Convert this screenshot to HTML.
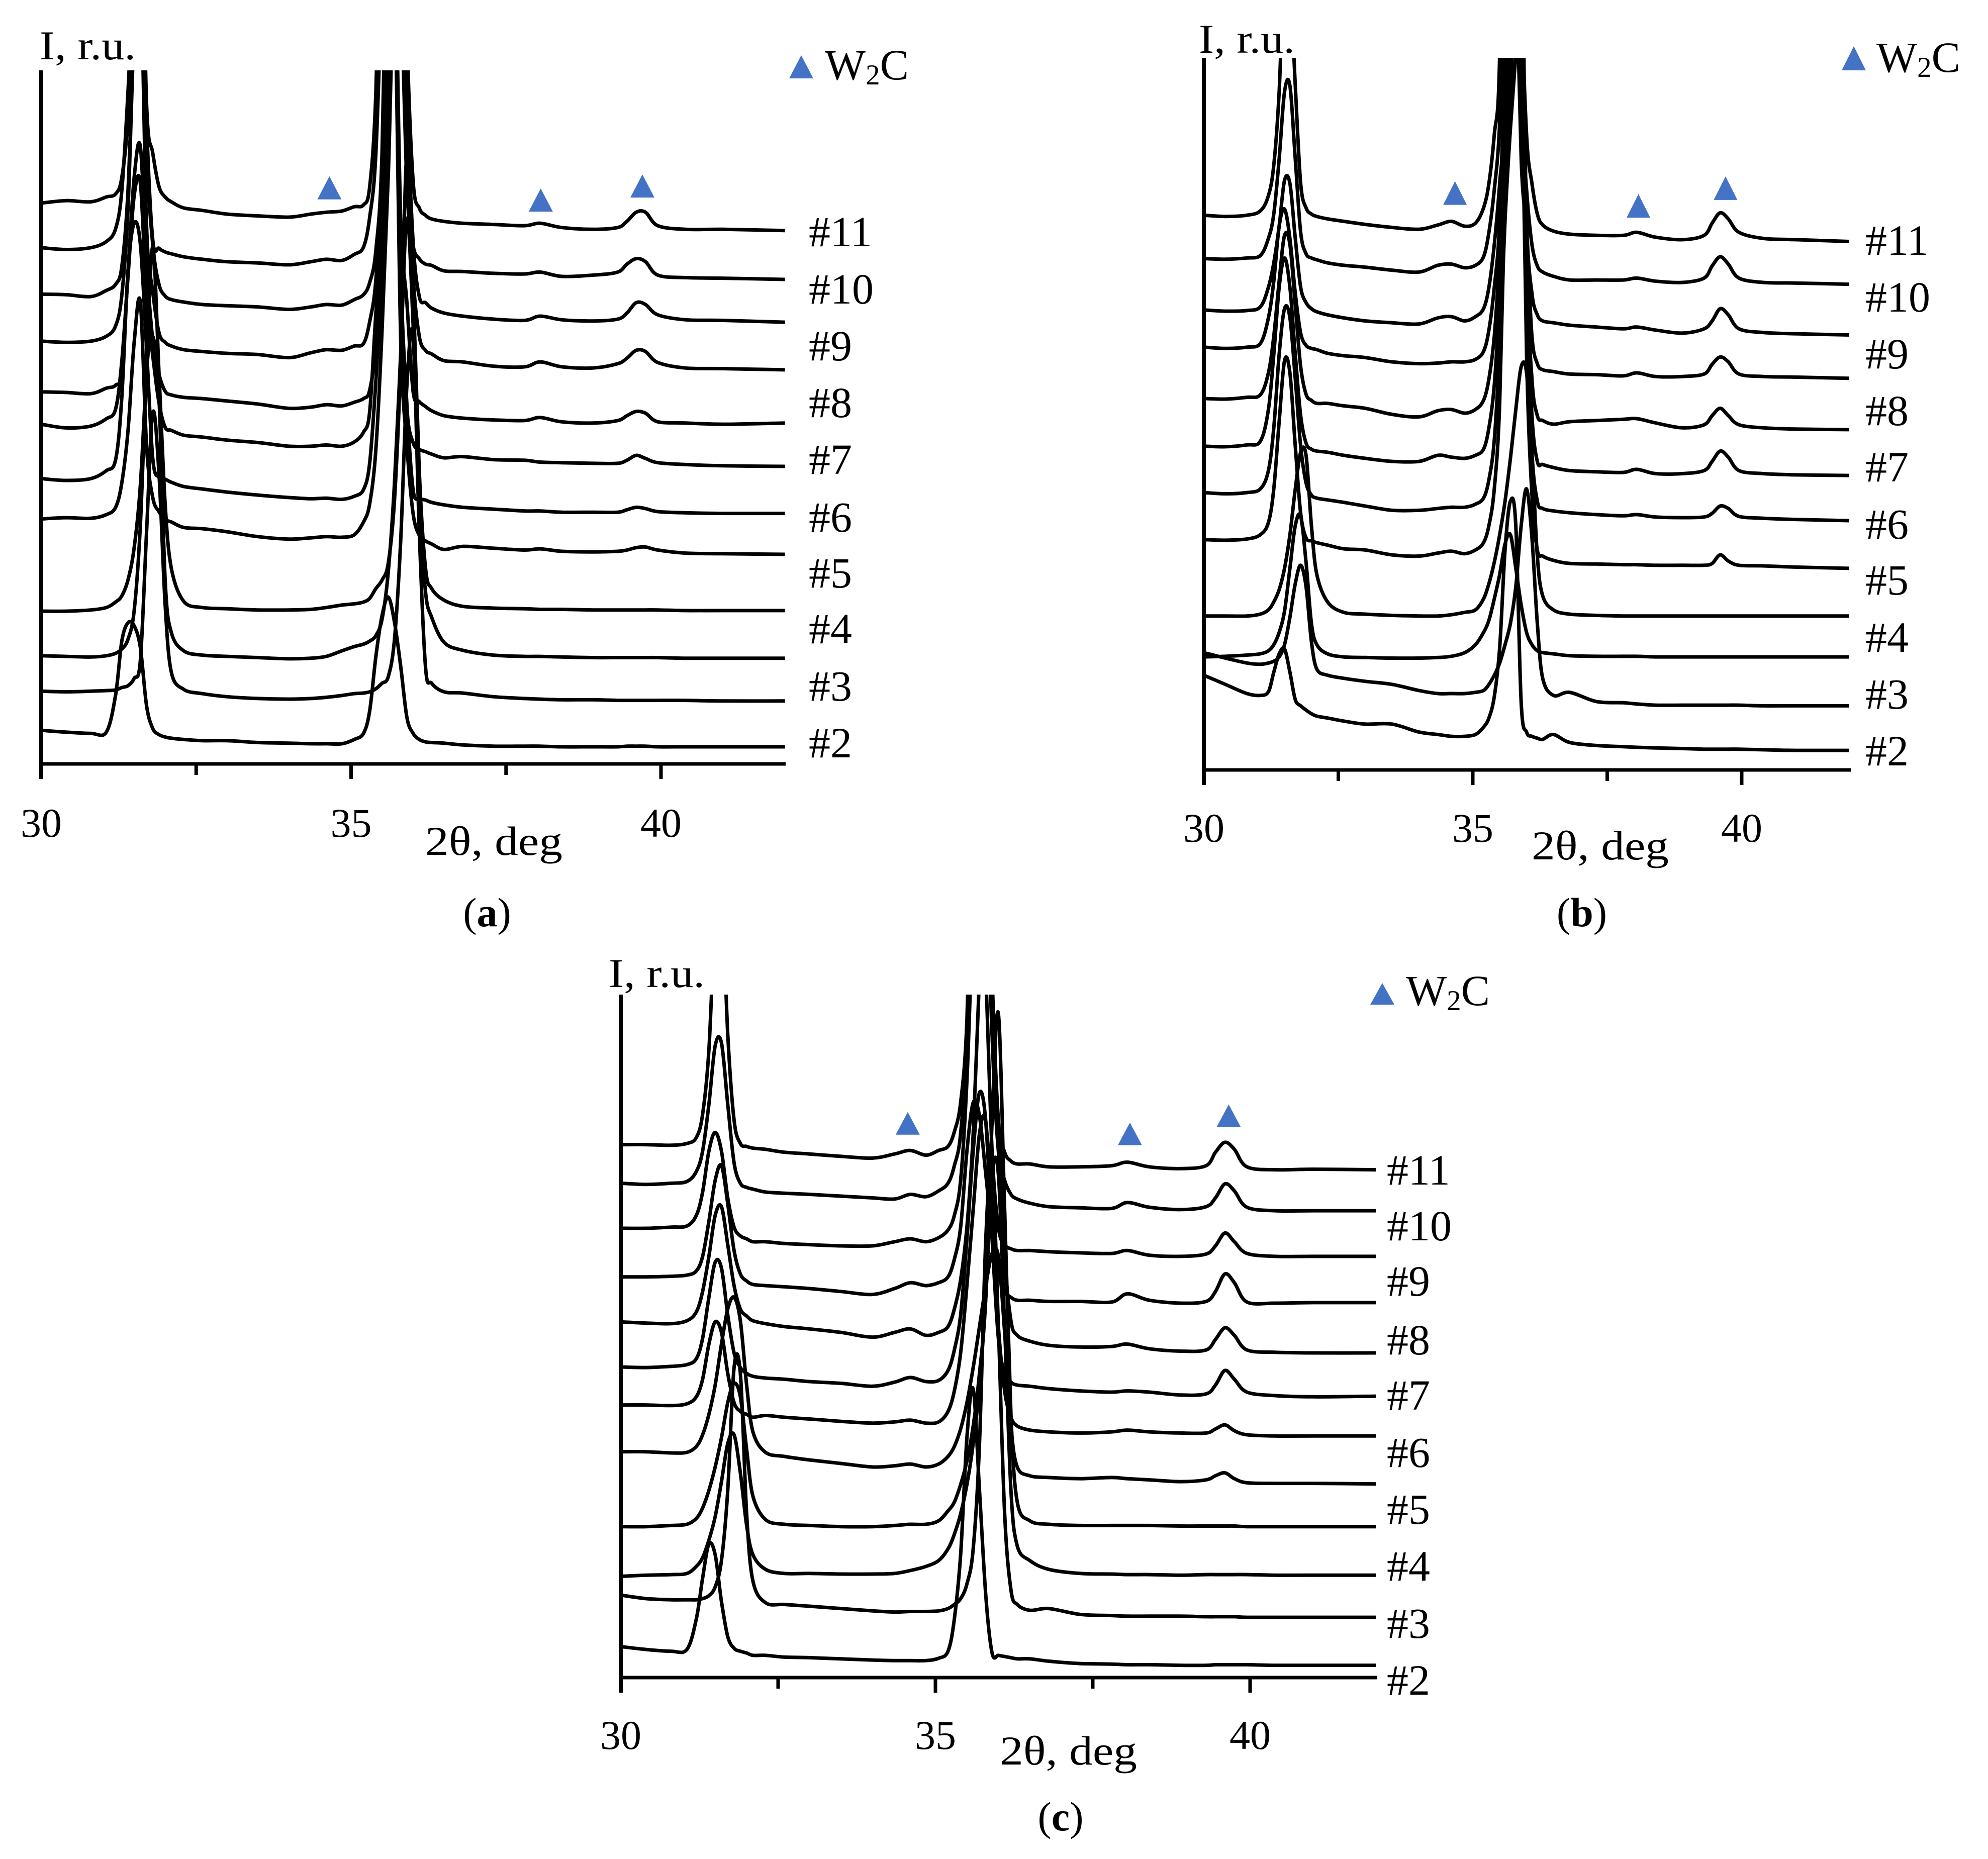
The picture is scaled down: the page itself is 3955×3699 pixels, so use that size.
<!DOCTYPE html>
<html lang="en">
<head>
<meta charset="utf-8">
<title>XRD patterns with W2C peaks</title>
<style>
html,body{margin:0;padding:0;background:#fff;}
svg{display:block;}
text{font-family:"Liberation Serif","DejaVu Serif",serif;fill:#000;font-size:82px;}
text.curve-label{font-size:86px;}
text.legend-label{font-size:86px;}
tspan.sub{font-size:57px;}
</style>
</head>
<body>
<svg id="figure" xmlns="http://www.w3.org/2000/svg" width="3955" height="3699" viewBox="0 0 3955 3699">
<rect x="0" y="0" width="3955" height="3699" fill="#ffffff"/>

<g id="panel-a">
<text x="79" y="118" textLength="191" lengthAdjust="spacingAndGlyphs">I, r.u.</text>
<polygon points="1570,156 1618,156 1594,110" fill="#4472C4"/>
<text class="legend-label" x="1641" y="158">W<tspan class="sub" dy="10">2</tspan><tspan dy="-10">C</tspan></text>
<text class="curve-label" x="1609" y="490">#11</text>
<text class="curve-label" x="1609" y="604">#10</text>
<text class="curve-label" x="1609" y="717">#9</text>
<text class="curve-label" x="1609" y="830">#8</text>
<text class="curve-label" x="1609" y="943">#7</text>
<text class="curve-label" x="1609" y="1058">#6</text>
<text class="curve-label" x="1609" y="1169">#5</text>
<text class="curve-label" x="1609" y="1280">#4</text>
<text class="curve-label" x="1609" y="1394">#3</text>
<text class="curve-label" x="1609" y="1507">#2</text>
<text x="846" y="1701" textLength="273" lengthAdjust="spacingAndGlyphs">2θ, deg</text>
<text x="969" y="1843" text-anchor="middle">(<tspan font-weight="bold">a</tspan>)</text>
</g>

<g id="panel-b">
<text x="2385" y="105" textLength="191" lengthAdjust="spacingAndGlyphs">I, r.u.</text>
<polygon points="3664,140 3712,140 3688,92" fill="#4472C4"/>
<text class="legend-label" x="3733" y="143">W<tspan class="sub" dy="10">2</tspan><tspan dy="-10">C</tspan></text>
<text class="curve-label" x="3711" y="507">#11</text>
<text class="curve-label" x="3711" y="620">#10</text>
<text class="curve-label" x="3711" y="733">#9</text>
<text class="curve-label" x="3711" y="846">#8</text>
<text class="curve-label" x="3711" y="958">#7</text>
<text class="curve-label" x="3711" y="1072">#6</text>
<text class="curve-label" x="3711" y="1183">#5</text>
<text class="curve-label" x="3711" y="1297">#4</text>
<text class="curve-label" x="3711" y="1410">#3</text>
<text class="curve-label" x="3711" y="1523">#2</text>
<text x="3047" y="1710" textLength="273" lengthAdjust="spacingAndGlyphs">2θ, deg</text>
<text x="3147" y="1843" text-anchor="middle">(<tspan font-weight="bold">b</tspan>)</text>
</g>

<g id="panel-c">
<text x="1211" y="1964" textLength="191" lengthAdjust="spacingAndGlyphs">I, r.u.</text>
<polygon points="2726,1999 2774,1999 2750,1956" fill="#4472C4"/>
<text class="legend-label" x="2797" y="2000">W<tspan class="sub" dy="10">2</tspan><tspan dy="-10">C</tspan></text>
<text class="curve-label" x="2759" y="2357">#11</text>
<text class="curve-label" x="2759" y="2468">#10</text>
<text class="curve-label" x="2759" y="2578">#9</text>
<text class="curve-label" x="2759" y="2695">#8</text>
<text class="curve-label" x="2759" y="2805">#7</text>
<text class="curve-label" x="2759" y="2919">#6</text>
<text class="curve-label" x="2759" y="3032">#5</text>
<text class="curve-label" x="2759" y="3145">#4</text>
<text class="curve-label" x="2759" y="3259">#3</text>
<text class="curve-label" x="2759" y="3372">#2</text>
<text x="1989" y="3511" textLength="273" lengthAdjust="spacingAndGlyphs">2θ, deg</text>
<text x="2110" y="3642" text-anchor="middle">(<tspan font-weight="bold">c</tspan>)</text>
</g>
</svg>

<script>
// Shared 2-theta sample positions (degrees)
const twoTheta = [30,30.4,30.8,31.05,
 31.2,31.3,31.4,31.5,31.6,31.7,31.8,31.9,32,32.1,
 32.3,32.6,33,33.5,34,34.35,34.6,34.85,35.05,
 35.2,35.3,35.4,35.5,35.6,35.7,35.8,35.9,36,36.1,36.2,36.3,
 36.5,36.8,37.3,37.8,38.05,38.4,38.9,39.3,39.45,39.6,39.75,39.95,40.4,41,42];
const tickValues = [30,32.5,35,37.5,40];
const tickLabelValues = ['30','35','40'];
const markerAnglesA = [34.65,38.06,39.7];
const markerAnglesB = [34.67,38.08,39.7];
const markerAnglesC = [34.56,38.09,39.66];
const markerIntensityA = [924,904,927];
const markerIntensityB = [925,904,933];
const markerIntensityC = [928,910,941];

// Panel (a) curves, top to bottom (relative intensity)
const a01=[918,922,920,928, 933,960,1060,1300,1500,1080,1000,945,928,920, 910,906,900,897,895,900,903,905,912, 915,945,1100,1500,1800,1900,1700,1200,955,910,898,892, 888,885,883,881,885,878,875,878,888,903,903,881,875,875,873];
const a02=[845,842,845,855, 876,938,1100,1300,1400,1050,858,844,838,835, 830,826,822,820,817,822,826,824,834, 846,895,1000,1300,1700,1600,1300,950,849,827,818,816, 807,806,803,802,805,798,800,805,818,827,822,800,796,795,793];
const a03=[769,768,765,775, 785,814,938,1200,1300,1000,850,785,766,760, 756,752,750,748,744,748,752,751,760, 768,788,841,1003,1500,1800,1500,1100,855,765,755,746, 738,733,728,726,733,727,725,728,738,755,752,735,727,726,723];
const a04=[692,690,692,700, 717,767,908,1200,1300,880,773,706,690,684, 678,675,672,670,665,673,678,677,684, 688,724,793,977,1300,1600,1500,1030,800,700,677,671, 660,658,651,650,658,650,648,655,664,677,675,657,648,647,645];
const a05=[609,608,606,615, 620,644,806,960,1010,820,694,638,610,604, 600,598,594,589,582,584,588,586,592, 598,612,688,866,1150,1350,893,755,610,593,585,578, 570,566,563,562,567,560,558,562,570,577,574,560,558,556,558];
const a06=[556,550,553,565, 581,659,797,930,950,760,668,591,551,546, 538,535,530,526,520,520,522,520,527, 543,577,738,866,1100,1300,800,582,526,515,511,507, 501,503,498,497,494,493,492,492,497,505,500,493,490,488,487];
const a07=[467,464,467,480, 498,600,806,885,850,680,500,469,466,461, 454,450,445,440,436,434,435,433,438, 449,493,627,800,1000,1300,810,588,449,435,432,428, 424,420,417,414,414,412,412,412,416,420,418,413,411,410,410];
const a08=[401,403,402,408, 420,460,545,690,755,520,436,413,400,396, 387,385,380,372,368,370,372,371,375, 396,426,515,710,965,1250,699,521,410,374,365,360, 351,356,353,350,352,348,347,348,350,354,355,350,345,344,343];
const a09=[250,250,252,256, 265,275,301,354,457,650,846,640,425,320, 266,256,254,252,252,253,256,260,262, 265,271,287,301,329,432,654,1000,780,480,321,287, 268,258,255,254,253,253,252,252,252,252,252,252,251,251,251];
const a10=[177,176,175,177, 181,188,204,251,392,640,700,600,300,215, 185,178,176,174,172,173,176,185,192, 196,201,210,237,315,460,671,893,720,432,282,240, 199,186,178,176,176,175,174,174,174,174,174,174,173,173,173];
const a11=[119,118,119,120, 121,125,128,140,170,380,575,475,260,150, 122,115,110,107,106,107,109,112,115, 116,118,123,132,143,204,365,620,700,380,159,132, 118,116,110,107,106,105,105,104,104,104,104,104,104,103,103];
const a12=[55,52,50,52, 113,201,231,226,190,95,58,48,44,42, 40,38,38,35,34,33,33,33,40, 50,87,176,243,273,232,160,76,50,40,36,35, 34,31,29,29,29,28,28,28,29,29,29,28,28,28,28];

// Panel (b) curves
const b01=[908,906,908,915, 940,990,1110,1330,1300,1120,960,920,910,906, 902,898,893,888,885,892,898,890,895, 920,960,1040,1170,1800,1800,1800,1300,1040,960,910,892, 882,877,875,875,880,872,868,875,895,912,902,880,870,868,865];
const b02=[837,836,838,842, 870,910,1000,1110,1120,1000,880,845,838,835, 830,826,823,818,815,826,828,822,826, 840,880,950,1060,1350,1800,1500,1100,950,860,825,815, 808,802,802,802,805,800,798,805,825,840,828,805,798,797,795];
const b03=[753,751,752,758, 790,830,890,965,960,870,790,765,755,750, 745,740,735,732,730,740,742,735,742, 755,790,860,960,1100,1600,1800,1300,900,780,745,735, 732,728,725,722,725,720,715,722,735,755,745,722,716,714,712];
const b04=[692,690,692,698, 740,800,890,918,870,780,715,695,690,688, 682,678,675,668,665,666,668,668,672, 685,720,790,900,1200,1600,1350,1000,880,710,665,655, 652,648,647,645,650,644,644,648,664,676,668,648,644,643,641];
const b05=[608,607,610,614, 650,710,800,875,860,760,660,615,605,600, 600,596,592,582,578,588,590,584,590, 605,640,710,840,1000,1200,1800,1500,850,640,580,572, 566,570,572,574,575,568,560,565,580,592,580,565,560,558,557];
const b06=[530,529,532,538, 590,680,790,838,790,680,580,535,525,522, 520,515,510,505,505,515,512,510,515, 525,560,630,770,950,1080,1400,1400,800,580,505,500, 495,490,488,487,492,485,485,490,505,522,512,490,485,483,482];
const b07=[454,452,454,460, 490,560,680,755,740,640,530,470,450,445, 442,438,432,425,425,428,430,430,435, 445,475,540,690,900,1050,1170,1300,750,520,440,428, 424,421,418,416,418,414,413,414,420,432,428,415,412,410,408];
const b08=[377,376,378,385, 405,460,570,670,650,530,420,380,375,372, 368,362,360,352,350,355,358,354,360, 372,400,460,600,950,1300,1500,1200,680,450,360,350, 343,338,337,336,336,335,335,335,338,352,342,335,334,332,330];
const b09=[252,252,252,255, 262,275,295,330,385,460,520,515,400,320, 275,258,255,253,252,252,254,258,262, 280,305,340,385,440,510,590,660,650,520,350,285, 262,255,253,252,252,252,252,252,252,252,252,252,252,252,252];
const b10=[185,186,188,190, 195,205,225,260,330,400,415,340,240,205, 190,185,184,183,183,184,186,192,205, 225,245,280,320,370,385,330,270,225,205,195,192, 190,187,186,186,186,185,185,185,185,185,185,185,185,185,185];
const b11=[192,183,175,173, 175,178,185,205,250,305,335,300,210,165, 155,150,145,140,130,125,125,125,127, 130,140,155,175,205,240,300,400,460,380,240,150, 122,127,112,110,108,106,106,106,106,106,106,106,105,105,105];
const b12=[155,140,125,122, 128,160,190,198,160,115,105,98,92,88, 85,80,75,75,62,58,55,55,58, 70,85,120,200,360,440,400,110,62,55,52,50, 58,45,40,38,37,36,35,34,34,34,34,34,33,32,32];

// Panel (c) curves
const c01=[911,911,910,913, 923,963,1073,1300,1350,1100,953,913,908,905, 903,898,895,891,888,895,901,893,901, 908,933,983,1123,1500,1800,1600,1200,953,898,883,878, 878,873,873,875,881,873,870,875,898,915,903,873,868,869,868];
const c02=[845,843,845,848, 865,900,980,1080,1085,980,880,845,838,835, 830,828,826,823,820,818,826,822,832, 845,875,930,1100,1500,1700,1500,1100,900,850,826,818, 811,805,803,802,812,804,800,805,820,844,832,804,798,798,798];
const c03=[768,768,770,772, 790,830,900,932,900,820,770,755,750,745, 745,742,740,738,738,745,750,745,752, 765,790,850,1020,1300,1400,1200,900,770,740,733,730, 730,728,726,725,730,722,720,724,738,760,745,725,720,720,720];
const c04=[685,685,686,688, 695,720,780,850,875,810,730,690,678,672, 670,668,665,660,655,665,675,670,675, 685,715,770,900,983,960,860,760,690,660,650,645, 645,643,643,642,656,645,640,643,660,690,675,642,640,641,641];
const c05=[608,606,605,610, 625,660,720,790,805,740,670,630,618,610, 605,600,596,590,582,590,596,585,590, 600,630,680,770,930,1200,1400,1100,950,720,610,585, 575,568,565,566,570,562,558,560,578,598,585,560,556,555,555];
const c06=[531,530,532,535, 545,580,650,710,700,620,555,530,520,515, 512,510,506,503,498,505,513,506,508, 525,560,620,750,900,1000,950,750,580,520,505,500, 498,494,490,488,490,488,483,485,500,525,510,488,482,480,481];
const c07=[466,466,465,468, 480,510,570,608,590,520,470,455,450,445, 448,445,442,438,435,437,440,435,437, 455,490,555,670,800,930,950,780,600,490,445,430, 423,420,418,420,423,420,418,418,425,432,422,415,413,413,413];
const c08=[386,386,384,385, 395,415,450,500,570,630,650,610,500,420, 385,378,372,366,360,362,365,360,365, 378,395,425,470,530,600,670,725,720,590,430,360, 345,342,340,342,340,338,335,338,345,350,340,333,332,332,331];
const c09=[258,258,260,262, 272,290,320,360,410,470,503,480,390,310, 270,262,260,258,258,260,262,262,268, 285,300,330,370,430,520,650,950,1135,800,450,300, 268,262,260,260,260,260,259,259,259,259,259,258,258,258,258];
const c10=[173,175,176,178, 190,205,235,275,335,400,415,350,260,210, 185,178,178,177,177,178,183,190,200, 220,245,280,330,400,500,650,860,860,600,320,225, 200,185,178,177,176,176,175,176,176,176,176,176,175,175,175];
const c11=[141,135,133,133, 133,135,140,155,200,320,530,520,280,165, 128,125,122,118,114,112,113,113,114, 118,125,135,160,220,400,750,880,600,280,150,125, 115,118,108,106,105,105,105,104,104,104,104,103,103,103,103];
const c12=[53,48,45,48, 100,170,228,210,130,70,50,45,42,38, 38,35,34,32,30,29,29,29,33, 45,100,210,410,493,320,140,42,38,36,34,32, 32,28,24,23,22,22,21,21,22,22,22,22,21,21,21];

const seriesA=[a01,a02,a03,a04,a05,a06,a07,a08,a09,a10,a11,a12];
const seriesB=[b01,b02,b03,b04,b05,b06,b07,b08,b09,b10,b11,b12];
const seriesC=[c01,c02,c03,c04,c05,c06,c07,c08,c09,c10,c11,c12];

const SVGNS='http://www.w3.org/2000/svg';

function drawPanel(id,left,pxPerDeg,right,top,bottom,pxPerUnit,curves,markerAngles,markers,labelY,markerW,markerH){
  const root=document.getElementById('panel-'+id);
  const xScale=function(d){return left+(d-30)*pxPerDeg;};
  const yScale=function(v){return bottom-v*pxPerUnit;};

  const clip=document.createElementNS(SVGNS,'clipPath');
  clip.setAttribute('id','clip-'+id);
  const clipRect=document.createElementNS(SVGNS,'rect');
  clipRect.setAttribute('x',left-3);
  clipRect.setAttribute('y',top);
  clipRect.setAttribute('width',right-left+10);
  clipRect.setAttribute('height',bottom-top);
  clip.appendChild(clipRect);
  root.appendChild(clip);

  const group=document.createElementNS(SVGNS,'g');
  group.setAttribute('clip-path','url(#clip-'+id+')');
  
  
  root.appendChild(group);

  curves.forEach(function(values,index){
    const pts=values.map(function(v,i){return [xScale(twoTheta[i]),yScale(v)];});
    let d='M'+pts[0][0].toFixed(1)+' '+pts[0][1].toFixed(1);
    for(let i=0;i<pts.length-1;i++){
      const p0=pts[Math.max(0,i-1)],p1=pts[i],p2=pts[i+1],p3=pts[Math.min(pts.length-1,i+2)];
      const c1x=p1[0]+(p2[0]-p0[0])/6,c1y=p1[1]+(p2[1]-p0[1])/6;
      const c2x=p2[0]-(p3[0]-p1[0])/6,c2y=p2[1]-(p3[1]-p1[1])/6;
      d+=' C'+c1x.toFixed(1)+' '+c1y.toFixed(1)+' '+c2x.toFixed(1)+' '+c2y.toFixed(1)+' '+p2[0].toFixed(1)+' '+p2[1].toFixed(1);
    }
    const path=document.createElementNS(SVGNS,'path');
    path.setAttribute('d',d);
    path.setAttribute('fill','none');
    path.setAttribute('stroke','#000000');
    path.setAttribute('stroke-width','7');
    path.setAttribute('stroke-linejoin','round');
    
    
    group.appendChild(path);
  });

  const yAxis=document.createElementNS(SVGNS,'line');
  yAxis.setAttribute('x1',left);
  yAxis.setAttribute('x2',left);
  yAxis.setAttribute('y1',top);
  yAxis.setAttribute('y2',bottom+30);
  yAxis.setAttribute('stroke','#000000');
  yAxis.setAttribute('stroke-width','8');
  
  
  root.appendChild(yAxis);

  const xAxis=document.createElementNS(SVGNS,'line');
  xAxis.setAttribute('x1',left-3);
  xAxis.setAttribute('x2',right);
  xAxis.setAttribute('y1',bottom);
  xAxis.setAttribute('y2',bottom);
  xAxis.setAttribute('stroke','#000000');
  xAxis.setAttribute('stroke-width','7');
  
  
  root.appendChild(xAxis);

  tickValues.forEach(function(t){
    const tick=document.createElementNS(SVGNS,'line');
    const major=Number.isInteger(t);
    tick.setAttribute('x1',xScale(t));
    tick.setAttribute('x2',xScale(t));
    tick.setAttribute('y1',bottom);
    tick.setAttribute('y2',bottom+(major?30:22));
    tick.setAttribute('stroke','#000000');
    tick.setAttribute('stroke-width','7');
    
    
    root.appendChild(tick);
  });

  tickLabelValues.forEach(function(label){
    const text=document.createElementNS(SVGNS,'text');
    text.setAttribute('x',xScale(Number(label)));
    text.setAttribute('y',labelY);
    text.setAttribute('text-anchor','middle');
    
    
    text.textContent=label;
    root.appendChild(text);
  });

  markerAngles.forEach(function(angle,i){
    const cx=xScale(angle),by=yScale(markers[i]);
    const tri=document.createElementNS(SVGNS,'polygon');
    tri.setAttribute('points',(cx-markerW/2)+','+by+' '+(cx+markerW/2)+','+by+' '+cx+','+(by-markerH));
    tri.setAttribute('fill','#4472C4');
    
    
    root.appendChild(tri);
  });
}

drawPanel('a',82,123.3,1563,140,1520,1.2156,seriesA,markerAnglesA,markerIntensityA,1665,48,46);
drawPanel('b',2395,107,3682,115,1532,1.2156,seriesB,markerAnglesB,markerIntensityB,1675,47,47);
drawPanel('c',1235,125.2,2740,1979,3338,1.164,seriesC,markerAnglesC,markerIntensityC,3480,48,45);
</script>
</body>
</html>
